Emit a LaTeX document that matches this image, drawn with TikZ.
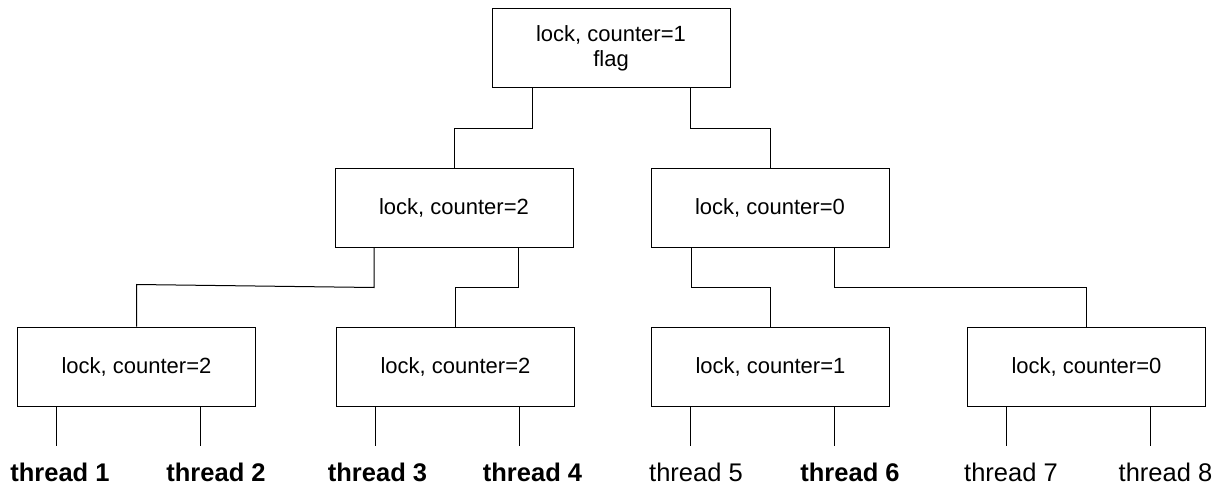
\documentclass[tikz,border=0pt]{standalone}
\usepackage{fontspec}
\setmainfont{Liberation Sans}
\begin{document}
\begin{tikzpicture}[x=1pt,y=-1pt,
  treebox/.style={draw, line width=1pt, minimum width=238pt, minimum height=79pt,
    inner sep=0pt, align=center, font=\fontsize{22}{25}\selectfont},
  wire/.style={line width=1pt},
  thr/.style={anchor=base, font=\fontsize{25.5}{30}\selectfont},
  thrb/.style={thr, font=\fontsize{25.5}{30}\selectfont\bfseries}]
\useasboundingbox (0,0) rectangle (1217,484);

% tree of lock nodes
\node[treebox] (root) at (611,48.5) {lock, counter=1\\flag};
\node[treebox] (ml) at (454,207.5) {lock, counter=2};
\node[treebox] (mr) at (770,207.5) {lock, counter=0};
\node[treebox] (b1) at (136.5,366.5) {lock, counter=2};
\node[treebox] (b2) at (455.5,366.5) {lock, counter=2};
\node[treebox] (b3) at (770.5,366.5) {lock, counter=1};
\node[treebox] (b4) at (1086.5,366.5) {lock, counter=0};

% elbow connectors between levels
\draw[wire] ([xshift=-79pt]root.south) -- ++(0,40) -| (ml.north);
\draw[wire] ([xshift=79pt]root.south) -- ++(0,40) -| (mr.north);
\draw[wire] ([xshift=-80pt]ml.south) -- ++(0,40) -- ([yshift=42pt]b1.north) -- (b1.north);
\draw[wire] ([xshift=64pt]ml.south) -- ++(0,40) -| (b2.north);
\draw[wire] ([xshift=-79pt]mr.south) -- ++(0,40) -| (b3.north);
\draw[wire] ([xshift=64pt]mr.south) -- ++(0,40) -| (b4.north);

% thread labels
\node[thrb] (t1) at (60,481) {thread 1};
\node[thrb] (t2) at (216,481) {thread 2};
\node[thrb] (t3) at (377.5,481) {thread 3};
\node[thrb] (t4) at (532.5,481) {thread 4};
\node[thr]  (t5) at (696,481) {thread 5};
\node[thrb] (t6) at (850,481) {thread 6};
\node[thr]  (t7) at (1011,481) {thread 7};
\node[thr]  (t8) at (1165.5,481) {thread 8};

% leaf wires hanging below the bottom row
\foreach \b in {b1,b2,b3,b4}{
  \draw[wire] ([xshift=-80pt]\b.south) -- ++(0,39);
  \draw[wire] ([xshift=64pt]\b.south) -- ++(0,39);
}
\end{tikzpicture}
\end{document}
